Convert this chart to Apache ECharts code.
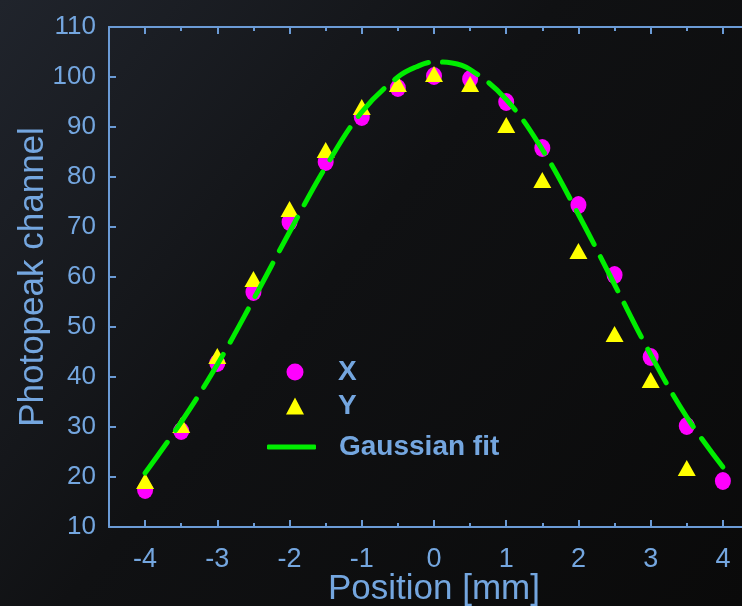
<!DOCTYPE html>
<html>
<head>
<meta charset="utf-8">
<script src="https://cdn.jsdelivr.net/npm/echarts@6/dist/echarts.min.js"></script>
<style>
html,body{margin:0;padding:0;background:#0c0c0c;}
#c{width:742px;height:606px;}
</style>
</head>
<body>
<div id="c"></div>
<script>
// Positions [mm]
const positions = [-4, -3.5, -3, -2.5, -2, -1.5, -1, -0.5, 0, 0.5, 1, 1.5, 2, 2.5, 3, 3.5, 4];
// X scan photopeak channel
const xValues = [17.4, 29.2, 42.8, 57.0, 71.0, 83.0, 92.0, 97.8, 100.2, 99.6, 95.0, 85.8, 74.4, 60.4, 44.0, 30.2, 19.2];
// Y scan photopeak channel (no point at 4 mm)
const yValues = [19.2, 30.4, 44.2, 59.6, 73.6, 85.4, 94.0, 98.6, 100.6, 98.6, 90.4, 79.4, 65.2, 48.6, 39.4, 21.8, null];
// Gaussian fit curve
const fitPositions = [-4, -3.5, -3, -2.5, -2, -1.5, -1, -0.5, -0.25, 0, 0.25, 0.5, 1, 1.5, 2, 2.5, 3, 3.5, 4];
const fitValues = [20.8, 31.0, 42.5, 55.5, 69.0, 82.0, 93.0, 100.0, 102.0, 103.0, 102.8, 101.5, 95.5, 85.5, 72.5, 58.5, 44.5, 32.0, 22.0];
// Tick labels
const xTickLabels = [-4, -3, -2, -1, 0, 1, 2, 3, 4];
const yTickLabels = [10, 20, 30, 40, 50, 60, 70, 80, 90, 100, 110];

const txt = '#74a6df';
const axisCol = '#6b9bd6';
const fontFam = '"Liberation Sans", Arial, sans-serif';

const pairs = (xs, ys) => xs.map((x, i) => [x, ys[i]]).filter(p => p[1] !== null);

const gridRect = {left: 109, top: 27, width: 650, height: 500, containLabel: false, outerBoundsMode: 'none'};

const chart = echarts.init(document.getElementById('c'));
chart.setOption({
  backgroundColor: {
    type: 'linear', x: 0, y: 0, x2: 1, y2: 1,
    colorStops: [
      {offset: 0, color: '#20242c'},
      {offset: 0.45, color: '#101113'},
      {offset: 1, color: '#0a0a0a'}
    ]
  },
  animation: false,
  grid: [Object.assign({}, gridRect), Object.assign({}, gridRect)],
  xAxis: [{
    gridIndex: 0, type: 'value', position: 'bottom', min: -4.5, max: 4.5, interval: 0.5,
    name: 'Position [mm]', nameLocation: 'middle', nameGap: 45, nameMoveOverlap: false,
    nameTextStyle: {color: txt, fontSize: 35, fontFamily: fontFam},
    axisLine: {onZero: false, lineStyle: {color: axisCol, width: 2}},
    axisTick: {inside: true, length: 7, customValues: xTickLabels, lineStyle: {color: axisCol, width: 2}},
    axisLabel: {
      color: txt, fontSize: 27, fontFamily: fontFam, margin: 19,
      customValues: xTickLabels, formatter: v => String(v)
    },
    splitLine: {show: false}
  }, {
    gridIndex: 0, type: 'value', position: 'top', min: -4.5, max: 4.5, interval: 0.5,
    axisLine: {show: true, onZero: false, lineStyle: {color: axisCol, width: 2}},
    axisTick: {inside: true, length: 7, customValues: xTickLabels, lineStyle: {color: axisCol, width: 2}},
    axisLabel: {show: false},
    splitLine: {show: false}
  }, {
    gridIndex: 1, type: 'value', position: 'bottom', min: -4.5, max: 4.5, interval: 0.5,
    axisLine: {show: false, onZero: false},
    axisTick: {inside: true, length: 4, lineStyle: {color: axisCol, width: 2}},
    axisLabel: {show: false},
    splitLine: {show: false}
  }, {
    gridIndex: 1, type: 'value', position: 'top', min: -4.5, max: 4.5, interval: 0.5,
    axisLine: {show: false, onZero: false},
    axisTick: {inside: true, length: 4, lineStyle: {color: axisCol, width: 2}},
    axisLabel: {show: false},
    splitLine: {show: false}
  }],
  yAxis: [{
    gridIndex: 0, type: 'value', min: 10, max: 110, interval: 10,
    name: 'Photopeak channel', nameLocation: 'middle', nameGap: 58, nameMoveOverlap: false,
    nameTextStyle: {color: txt, fontSize: 35, fontFamily: fontFam},
    axisLine: {show: true, onZero: false, lineStyle: {color: axisCol, width: 2}},
    axisTick: {inside: true, length: 7, lineStyle: {color: axisCol, width: 2}},
    axisLabel: {
      color: txt, fontSize: 26, fontFamily: fontFam, margin: 13,
      formatter: v => (yTickLabels.indexOf(v) >= 0 ? String(v) : '')
    },
    splitLine: {show: false}
  }, {
    gridIndex: 1, type: 'value', min: 10, max: 110, interval: 10, show: false
  }],
  legend: [{
    data: ['X', 'Y'], orient: 'vertical', left: 281, top: 353,
    itemWidth: 18, itemHeight: 17, itemGap: 6,
    textStyle: {color: txt, fontSize: 28, fontWeight: 'bold', fontFamily: fontFam, padding: [0, 0, 0, 29]}
  }, {
    data: [{name: 'Gaussian fit', icon: 'roundRect'}], orient: 'vertical', left: 262, top: 428,
    itemWidth: 49, itemHeight: 5,
    textStyle: {color: txt, fontSize: 28, fontWeight: 'bold', fontFamily: fontFam, padding: [0, 0, 0, 18]}
  }],
  series: [{
    name: 'X', type: 'scatter', symbol: 'circle', symbolSize: [16, 18],
    itemStyle: {color: '#ff00ff', opacity: 1},
    data: pairs(positions, xValues), z: 2
  }, {
    name: 'Y', type: 'scatter', symbol: 'triangle', symbolSize: [18, 16],
    itemStyle: {color: '#ffff00', opacity: 1},
    data: pairs(positions, yValues), z: 3
  }, {
    name: 'Gaussian fit', type: 'line', symbol: 'none', smooth: 0.4,
    lineStyle: {color: '#00ee00', width: 5, type: [38, 14], cap: 'round'},
    itemStyle: {color: '#00ee00'},
    data: pairs(fitPositions, fitValues), z: 4
  }]
});
</script>
</body>
</html>
